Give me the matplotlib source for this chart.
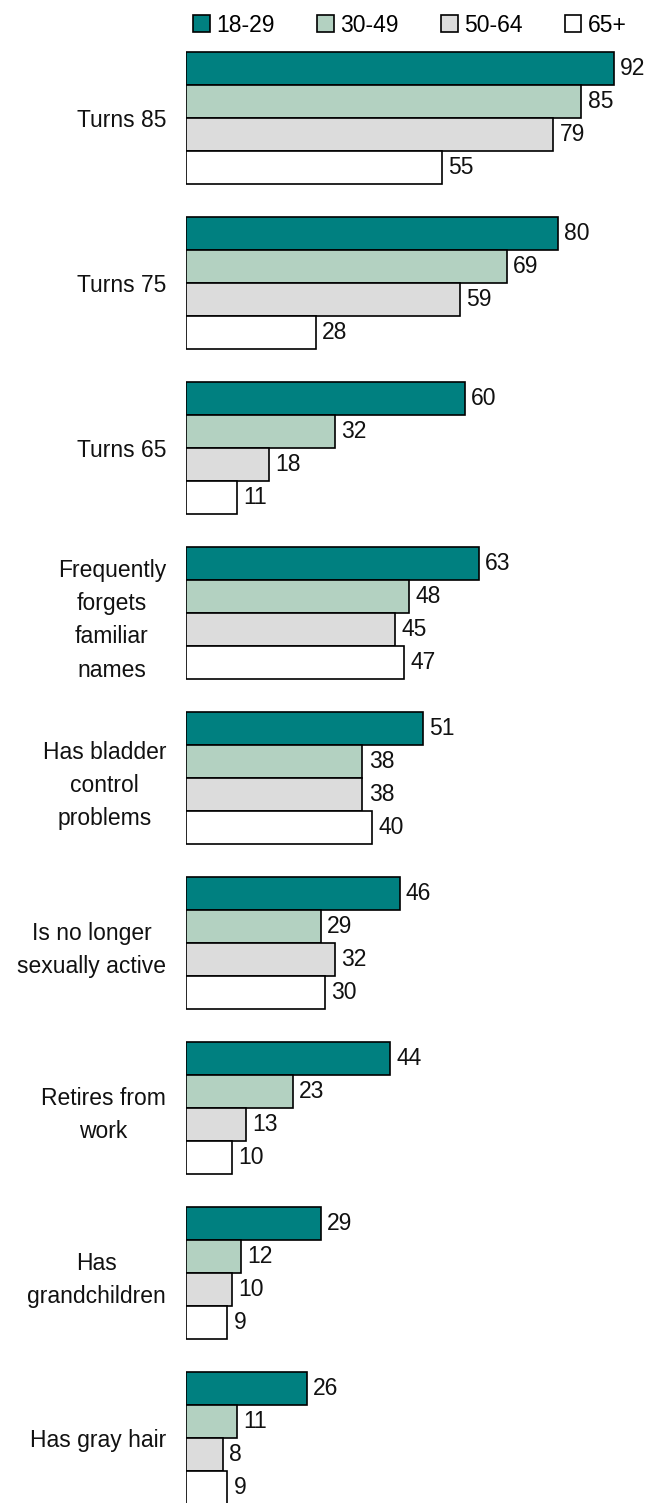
import matplotlib.pyplot as plt
import numpy as np

plt.rcParams['font.family'] = ['Liberation Sans', 'DejaVu Sans']

categories = ["Turns 85", "Turns 75", "Turns 65",
              "Frequently\nforgets\nfamiliar\nnames",
              "Has bladder\ncontrol\nproblems",
              "Is no longer\nsexually active",
              "Retires from\nwork",
              "Has\ngrandchildren",
              "Has gray hair"]
age_groups = ["18-29", "30-49", "50-64", "65+"]
vals_18_29 = [92, 80, 60, 63, 51, 46, 44, 29, 26]
vals_30_49 = [85, 69, 32, 48, 38, 29, 23, 12, 11]
vals_50_64 = [79, 59, 18, 45, 38, 32, 13, 10, 8]
vals_65 = [55, 28, 11, 47, 40, 30, 10, 9, 9]

series = [vals_18_29, vals_30_49, vals_50_64, vals_65]
colors = ["#008080", "#b3d1c1", "#dcdcdc", "#ffffff"]

fs = 16.5
fig = plt.figure(figsize=(6.48, 15.03), dpi=100)
ax = fig.add_axes([185.5 / 648, 0, 1 - 185.5 / 648, 1])

g = np.arange(len(categories)) * 5
handles = []
for j, (vals, col) in enumerate(zip(series, colors)):
    bars = ax.barh(g + j + 0.5, vals, height=1.0, color=col,
                   edgecolor="black", linewidth=1.2, label=age_groups[j])
    ax.bar_label(bars, labels=[str(v) for v in vals], padding=4.5,
                 fontsize=fs, color="#111111")
    handles.append(bars)

ax.set_xlim(0, (648 - 185.5) / 4.657)
ax.set_ylim((1503 - 51.7) / 33, -51.7 / 33)

ax.set_yticks(g + 2)
ax.set_yticklabels(categories, fontsize=fs, linespacing=1.57, color="#111111")
for lbl in ax.get_yticklabels():
    lbl.set_multialignment("center")
ax.tick_params(axis="y", length=0, pad=14)
ax.set_xticks([])
for s in ax.spines.values():
    s.set_visible(False)

fig.legend(handles=handles, labels=age_groups, loc="center", ncol=4,
           bbox_to_anchor=(410 / 648, 1 - 25 / 1503), frameon=False,
           fontsize=fs, handlelength=0.72, handleheight=0.72,
           handletextpad=0.28, columnspacing=1.85, borderpad=0)

fig.savefig("out.png", dpi=100)
